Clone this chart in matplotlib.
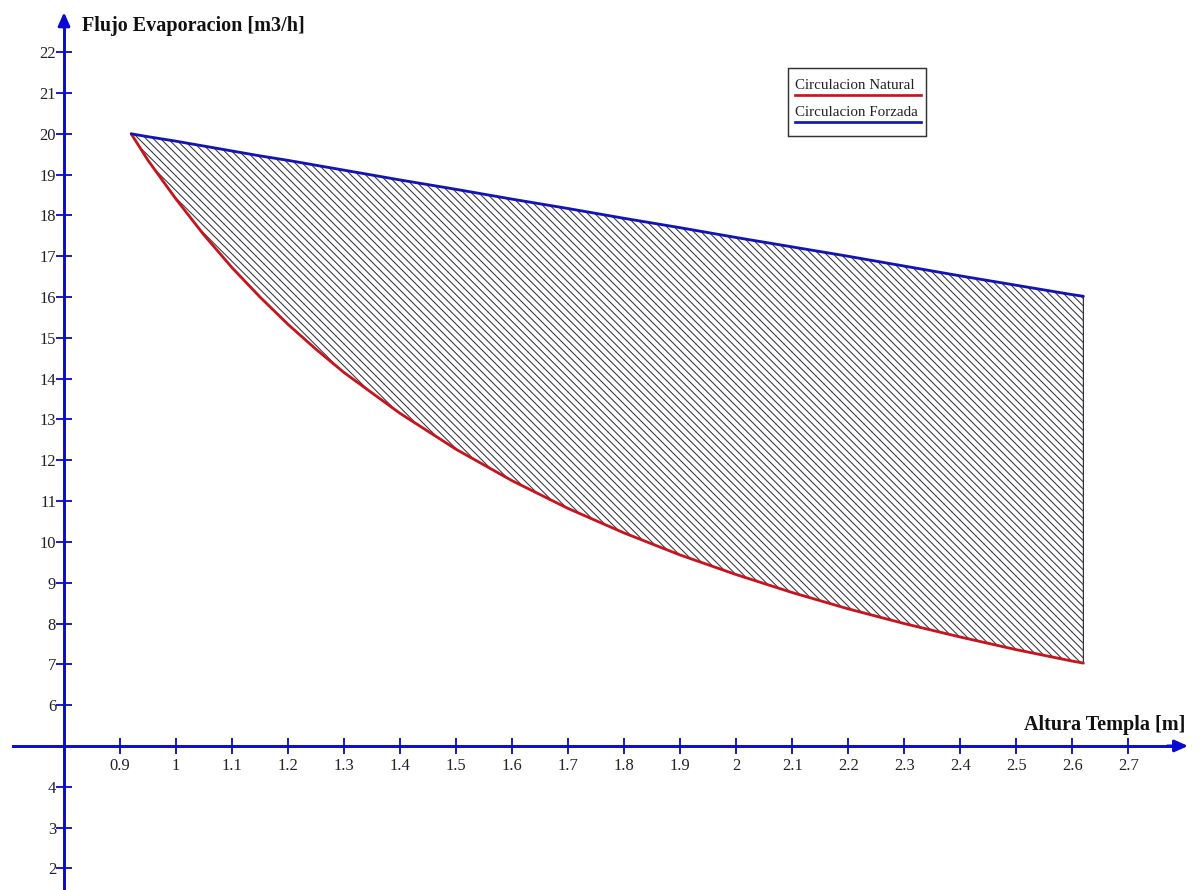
import matplotlib
matplotlib.use("Agg")
import matplotlib.pyplot as plt
from matplotlib.lines import Line2D

# ---- data ----
altura = [0.92, 0.95, 1.0, 1.05, 1.1, 1.15, 1.2, 1.25, 1.3, 1.4, 1.5, 1.6,
          1.7, 1.8, 1.9, 2.0, 2.1, 2.2, 2.3, 2.4, 2.5, 2.6, 2.62]
natural = [20.0, 19.35, 18.4, 17.52, 16.72, 16.0, 15.33, 14.72, 14.15, 13.15,
           12.27, 11.5, 10.82, 10.22, 9.68, 9.2, 8.76, 8.36, 8.0, 7.67, 7.36,
           7.08, 7.03]
forzada = [20.0, 19.93, 19.82, 19.7, 19.58, 19.46, 19.35, 19.23, 19.11, 18.87,
           18.64, 18.4, 18.17, 17.93, 17.7, 17.46, 17.23, 17.0, 16.76, 16.52,
           16.29, 16.06, 16.02]
xticks = [0.9, 1.0, 1.1, 1.2, 1.3, 1.4, 1.5, 1.6, 1.7, 1.8, 1.9, 2.0,
          2.1, 2.2, 2.3, 2.4, 2.5, 2.6, 2.7]
xticklabels = ["0.9", "1", "1.1", "1.2", "1.3", "1.4", "1.5", "1.6", "1.7",
               "1.8", "1.9", "2", "2.1", "2.2", "2.3", "2.4", "2.5", "2.6", "2.7"]
yticks = [2, 3, 4, 6, 7, 8, 9, 10, 11, 12, 13, 14, 15, 16, 17, 18, 19, 20, 21, 22]
series_names = ["Circulacion Natural", "Circulacion Forzada"]
xlabel = "Altura Templa [m]"
ylabel = "Flujo Evaporacion [m3/h]"

# ---- style ----
DPI = 88
W, H = 1201, 890
AXIS_BLUE = "#0a0ad2"
RED = "#c8141e"
BLUE = "#1414b4"
TXT = "#222222"
plt.rcParams["font.family"] = ["Liberation Serif", "DejaVu Serif"]
plt.rcParams["hatch.linewidth"] = 0.85

fig = plt.figure(figsize=(W / DPI, H / DPI), dpi=DPI)
ax = fig.add_axes([0, 0, 1, 1])
ax.set_facecolor("white")

x0, y0 = 0.8, 5.0
ax.set_xlim(0.6857, 2.830)
ax.set_ylim(1.47, 23.28)

# spines as crossing axes
for s in ("top", "right"):
    ax.spines[s].set_visible(False)
ax.spines["left"].set_position(("data", x0))
ax.spines["bottom"].set_position(("data", y0))
ax.spines["left"].set_bounds(1.47, 22.7)
ax.spines["bottom"].set_bounds(0.709, 2.78)
for s in ("left", "bottom"):
    ax.spines[s].set_color(AXIS_BLUE)
    ax.spines[s].set_linewidth(2.4)
    ax.spines[s].set_zorder(5)

# arrow heads
ax.annotate("", xy=(x0, 22.98), xytext=(x0, 22.6),
            arrowprops=dict(arrowstyle="-|>,head_length=0.9,head_width=0.4",
                            color=AXIS_BLUE, lw=2.4, shrinkA=0, shrinkB=0),
            annotation_clip=False)
ax.annotate("", xy=(2.807, y0), xytext=(2.77, y0),
            arrowprops=dict(arrowstyle="-|>,head_length=0.9,head_width=0.4",
                            color=AXIS_BLUE, lw=2.4, shrinkA=0, shrinkB=0),
            annotation_clip=False)

ax.set_xticks(xticks)
ax.set_xticklabels(xticklabels)
ax.set_yticks(yticks)
ax.set_yticklabels([str(v) for v in yticks])
ax.tick_params(axis="both", direction="inout", length=13, width=1.5,
               color=AXIS_BLUE, labelcolor=TXT, labelsize=13.5)
ax.tick_params(axis="x", pad=3)
ax.tick_params(axis="y", pad=0)

# hatched region between curves
ax.fill_between(altura, natural, forzada, facecolor="white",
                edgecolor="#33333f", hatch="\\\\\\\\", linewidth=1.0, zorder=2)
ax.plot(altura, natural, color=RED, lw=2.3, zorder=3, solid_capstyle="round")
ax.plot(altura, forzada, color=BLUE, lw=2.3, zorder=3, solid_capstyle="round")

# axis labels
ax.text(82, H - 26, ylabel, transform=None, fontsize=16.5, fontweight="bold",
        color="#111111", ha="left", va="center")
ax.text(1185, H - 725, xlabel, transform=None, fontsize=16.5,
        fontweight="bold", color="#111111", ha="right", va="center")

# legend (text with line underneath)
lx0, lx1 = 788, 926
ly_top, ly_bot = H - 68, H - 136
box = plt.Rectangle((lx0, ly_bot), lx1 - lx0, ly_top - ly_bot, transform=None,
                    facecolor="white", edgecolor="#333333", lw=1.2, zorder=6)
fig.patches.append(box)
for name, col, yline in ((series_names[0], RED, H - 95),
                         (series_names[1], BLUE, H - 122)):
    fig.text(795 / W, (yline + 3) / H, name, fontsize=12.3, color=TXT,
             ha="left", va="bottom", zorder=7)
    fig.add_artist(Line2D([795 / W, 921 / W], [yline / H, yline / H],
                          color=col, lw=2.2, zorder=7))

fig.savefig("out.png", dpi=DPI, facecolor="white")
